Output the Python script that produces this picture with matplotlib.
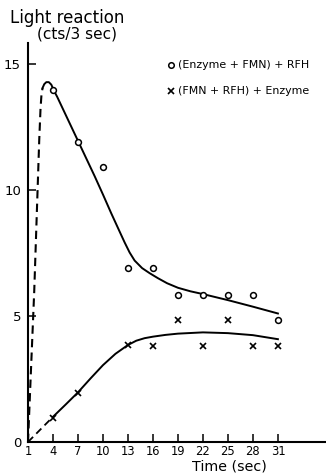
import matplotlib
matplotlib.use("Agg")
import matplotlib.pyplot as plt
from matplotlib.lines import Line2D

# Data points
circ_t = [4, 7, 10, 13, 16, 19, 22, 25, 28, 31]
circ_v = [13.95, 11.9, 10.9, 6.9, 6.9, 5.85, 5.85, 5.85, 5.85, 4.85]
cross_t = [4, 7, 13, 16, 19, 22, 25, 28, 31]
cross_v = [0.95, 1.95, 3.85, 3.8, 4.85, 3.8, 4.85, 3.8, 3.8]

# Hand-drawn fit curves
c1_dash_t = [1.0, 1.25, 1.5, 1.75, 1.95, 2.15, 2.35, 2.5, 2.62, 2.75]
c1_dash_v = [0.0, 2.0, 4.0, 6.0, 8.0, 10.0, 12.0, 13.2, 13.8, 14.05]
c1_solid_t = [2.75, 2.95, 3.2, 3.5, 3.8, 4.1, 4.5, 5, 6, 7, 8, 9, 10, 11, 12, 12.6, 13.2, 13.8, 14.7, 15.6, 16.6, 17.7, 19, 20.5, 22, 25, 28, 31]
c1_solid_v = [14.05, 14.2, 14.28, 14.28, 14.18, 13.95, 13.7, 13.35, 12.65, 11.95, 11.25, 10.55, 9.82, 9.07, 8.35, 7.92, 7.52, 7.2, 6.9, 6.7, 6.5, 6.3, 6.12, 5.98, 5.87, 5.63, 5.37, 5.1]
c2_dash_t = [1, 4]
c2_dash_v = [0, 1]
c2_solid_t = [4, 5.5, 7, 8.5, 10, 11.5, 13, 14, 15, 16, 17.5, 19, 22, 25, 28, 31]
c2_solid_v = [1.0, 1.48, 1.97, 2.52, 3.05, 3.5, 3.85, 4.02, 4.12, 4.18, 4.25, 4.3, 4.35, 4.32, 4.24, 4.08]

xticks = [1, 4, 7, 10, 13, 16, 19, 22, 25, 28, 31]
yticks = [0, 5, 10, 15]

plt.rcParams['font.family'] = ['DejaVu Sans']

fig = plt.figure(figsize=(3.26, 4.74), dpi=100)
ax = fig.add_axes([28/326, 1-442/474, 1-28/326, (442-43)/474])
ax.set_xlim(1, 1 + (326-28)/8.33)
ax.set_ylim(0, (442-43)/25.2)

ax.plot(c1_dash_t, c1_dash_v, color='black', lw=1.5, ls=(0, (4, 2.5)))
ax.plot(c1_solid_t, c1_solid_v, color='black', lw=1.4)
ax.plot(c2_dash_t, c2_dash_v, color='black', lw=1.3, ls=(0, (4, 2.5)))
ax.plot(c2_solid_t, c2_solid_v, color='black', lw=1.4)

ax.plot(circ_t, circ_v, 'o', ms=4.2, mfc='white', mec='black', mew=1.1, ls='none', clip_on=False)
ax.plot(cross_t, cross_v, 'x', ms=4.2, color='black', mew=1.2, ls='none', clip_on=False)

for s in ['top', 'right']:
    ax.spines[s].set_visible(False)
ax.spines['left'].set_linewidth(1.5)
ax.spines['bottom'].set_linewidth(1.5)

ax.set_xticks(xticks)
ax.set_xticklabels([str(t) for t in xticks], fontsize=8.3)
ax.set_yticks(yticks)
ax.set_yticklabels([str(t) for t in yticks], fontsize=9.5)
ax.tick_params(axis='both', direction='in', length=5.5, width=1.1)
ax.tick_params(axis='x', pad=2.5)
ax.tick_params(axis='y', pad=5)

fig.text(229/326, 1-466/474, 'Time (sec)', ha='center', va='center', fontsize=10.3)
fig.text(10/326, 1-18/474, 'Light reaction', ha='left', va='center', fontsize=12)
fig.text(37/326, 1-34/474, '(cts/3 sec)', ha='left', va='center', fontsize=11)

# legend-like annotations
fig.text(178/326, 1-65/474, '(Enzyme + FMN) + RFH', ha='left', va='center', fontsize=7.9)
fig.text(178/326, 1-91/474, '(FMN + RFH) + Enzyme', ha='left', va='center', fontsize=7.9)
fig.lines.append(Line2D([171/326], [1-65/474], marker='o', ms=4.0, mfc='white', mec='black', mew=1.1, transform=fig.transFigure, ls='none'))
fig.lines.append(Line2D([171/326], [1-91/474], marker='x', ms=4.0, color='black', mew=1.2, transform=fig.transFigure, ls='none'))

fig.savefig('out.png', dpi=100)
